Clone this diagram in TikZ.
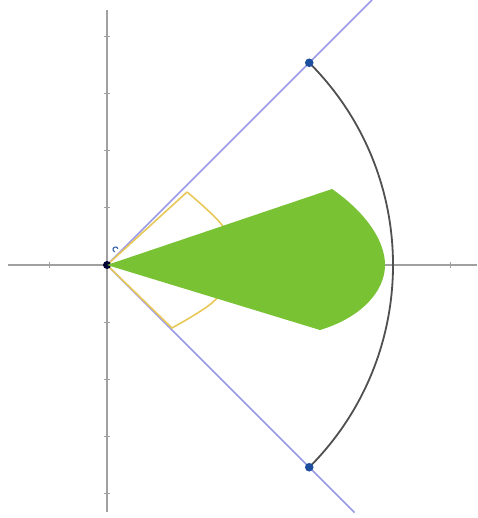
\documentclass[tikz,border=0pt]{standalone}
\usepackage{xcolor}
\definecolor{axisGray}{HTML}{A0A0A0}
\definecolor{arcGray}{HTML}{505050}
\definecolor{rayBlue}{HTML}{9A9AE6}
\definecolor{dotBlue}{HTML}{1E4E9E}
\definecolor{markGold}{HTML}{E8C858}
\definecolor{fanGreen}{HTML}{78C234}
\usepackage{tikz}

\begin{document}
\begin{tikzpicture}
  \useasboundingbox (-1.871,-4.423) rectangle (6.469,4.633);
  \coordinate (O) at (0,0);
  \coordinate (P) at (45:5);
  \coordinate (Q) at (-45:5);
  % the axes
  \draw[axisGray, line width=0.8pt] (-1.73,0) -- (6.469,0);
  \draw[axisGray, line width=0.8pt] (0,-4.32) -- (0,4.46);
  \foreach \t in {-1,1,2,3,4,5,6}
    \draw[axisGray, line width=0.5pt] (\t,-0.05) -- (\t,0.05);
  \foreach \t in {-4,-3,-2,-1,1,2,3,4}
    \draw[axisGray, line width=0.5pt] (-0.05,\t) -- (0.05,\t);
  % the two rays
  \draw[rayBlue, line width=0.8pt] (O) -- (4.633,4.633);
  \draw[rayBlue, line width=0.8pt] (O) -- (-45:6.12);
  % the angle mark
  \draw[markGold, line width=0.8pt] (O) -- (1.399,1.276)
    plot[smooth] coordinates {(1.399,1.276) (2.010,0.699) (2.325,0) (1.853,-0.647) (1.136,-1.101)}
    -- (O);
  % the arc of radius 5
  \draw[arcGray, line width=0.9pt] (P) arc[start angle=45, end angle=-45, radius=5];
  % points at the origin
  \draw[dotBlue, line width=0.5pt] (0.149,0.271) ++(20:0.045) arc[start angle=20, end angle=250, radius=0.045];
  \fill[black!80!blue] (O) circle (0.07);
  % the green fan
  \fill[fanGreen] (O) -- (3.934,1.329)
    .. controls (4.510,0.927) and (4.860,0.437) .. (4.860,0)
    .. controls (4.860,-0.472) and (4.423,-0.927) .. (3.724,-1.136) -- cycle;
  % points on the arc
  \fill[dotBlue] (P) circle (0.075);
  \fill[dotBlue] (Q) circle (0.075);
\end{tikzpicture}
\end{document}
